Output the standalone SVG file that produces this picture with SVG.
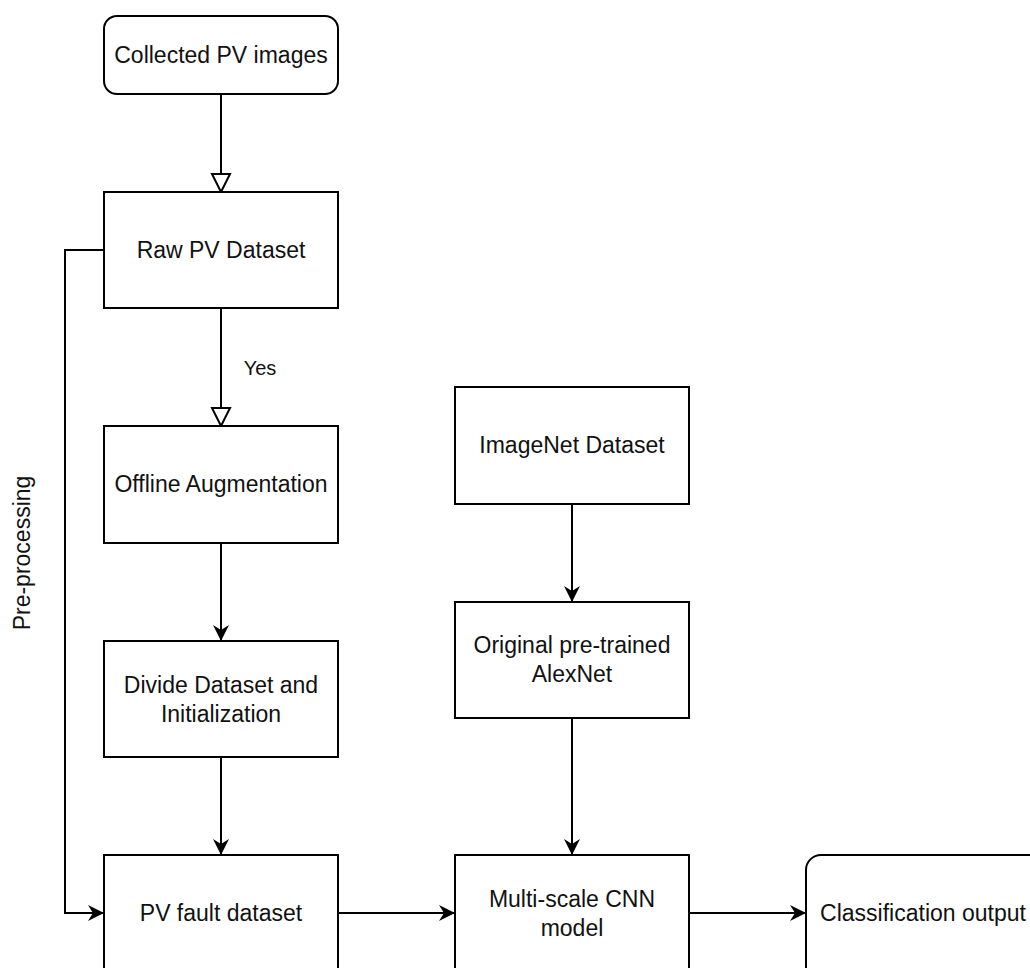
<svg xmlns="http://www.w3.org/2000/svg" width="1030" height="968" viewBox="0 0 1030 968">
<style>
  .box { fill: #ffffff; stroke: #000000; stroke-width: 2; }
  .lbl { font-family: "Liberation Sans", Arial, sans-serif; font-size: 23px; fill: #111111; text-anchor: middle; dominant-baseline: central; }
  .small { font-size: 20px; }
  .edge { fill: none; stroke: #000000; stroke-width: 2; }
  .filled { marker-end: url(#arrowFilled); }
  .open { marker-end: url(#arrowOpen); }
</style>
<defs>
  <marker id="arrowFilled" markerUnits="userSpaceOnUse" viewBox="0 0 16 16" refX="16" refY="8" markerWidth="16" markerHeight="16" orient="auto">
    <path d="M0,0 L16,8 L0,16 L5,8 Z" fill="#000000"/>
  </marker>
  <marker id="arrowOpen" markerUnits="userSpaceOnUse" viewBox="0 0 22 22" refX="20" refY="11" markerWidth="22" markerHeight="22" orient="auto">
    <path d="M2,2 L20,11 L2,20 Z" fill="#ffffff" stroke="#000000" stroke-width="2" stroke-linejoin="miter"/>
  </marker>
</defs>
<rect width="1030" height="968" fill="#ffffff"/>
<g id="connectors">
  <path class="edge open" d="M221,94 V192"/>
  <path class="edge open" d="M221,308 V426"/>
  <text class="lbl small" x="260" y="368">Yes</text>
  <path class="edge filled" d="M221,543 V641"/>
  <path class="edge filled" d="M221,757 V855"/>
  <path class="edge filled" d="M104,250 H65 V913 H104"/>
  <text class="lbl" transform="translate(22,553) rotate(-90)" x="0" y="0">Pre-processing</text>
  <path class="edge filled" d="M572,504 V602"/>
  <path class="edge filled" d="M572,718 V855"/>
  <path class="edge filled" d="M338,913 H455"/>
  <path class="edge filled" d="M689,913 H806"/>
</g>
<g id="collected">
  <rect class="box" x="104" y="16" width="234" height="78" rx="13"/>
  <text class="lbl" x="221" y="55">Collected PV images</text>
</g>
<g id="raw">
  <rect class="box" x="104" y="192" width="234" height="116"/>
  <text class="lbl" x="221" y="250">Raw PV Dataset</text>
</g>
<g id="offline">
  <rect class="box" x="104" y="426" width="234" height="117"/>
  <text class="lbl" x="221" y="484">Offline Augmentation</text>
</g>
<g id="divide">
  <rect class="box" x="104" y="641" width="234" height="116"/>
  <text class="lbl" x="221" y="685">Divide Dataset and</text>
  <text class="lbl" x="221" y="714">Initialization</text>
</g>
<g id="pvfault">
  <rect class="box" x="104" y="855" width="234" height="130"/>
  <text class="lbl" x="221" y="913">PV fault dataset</text>
</g>
<g id="imagenet">
  <rect class="box" x="455" y="387" width="234" height="117"/>
  <text class="lbl" x="572" y="445">ImageNet Dataset</text>
</g>
<g id="alexnet">
  <rect class="box" x="455" y="602" width="234" height="116"/>
  <text class="lbl" x="572" y="645">Original pre-trained</text>
  <text class="lbl" x="572" y="674">AlexNet</text>
</g>
<g id="multiscale">
  <rect class="box" x="455" y="855" width="234" height="130"/>
  <text class="lbl" x="572" y="899">Multi-scale CNN</text>
  <text class="lbl" x="572" y="928">model</text>
</g>
<g id="classification">
  <rect class="box" x="806" y="855" width="240" height="130" rx="15"/>
  <text class="lbl" x="923" y="913">Classification output</text>
</g>
</svg>
